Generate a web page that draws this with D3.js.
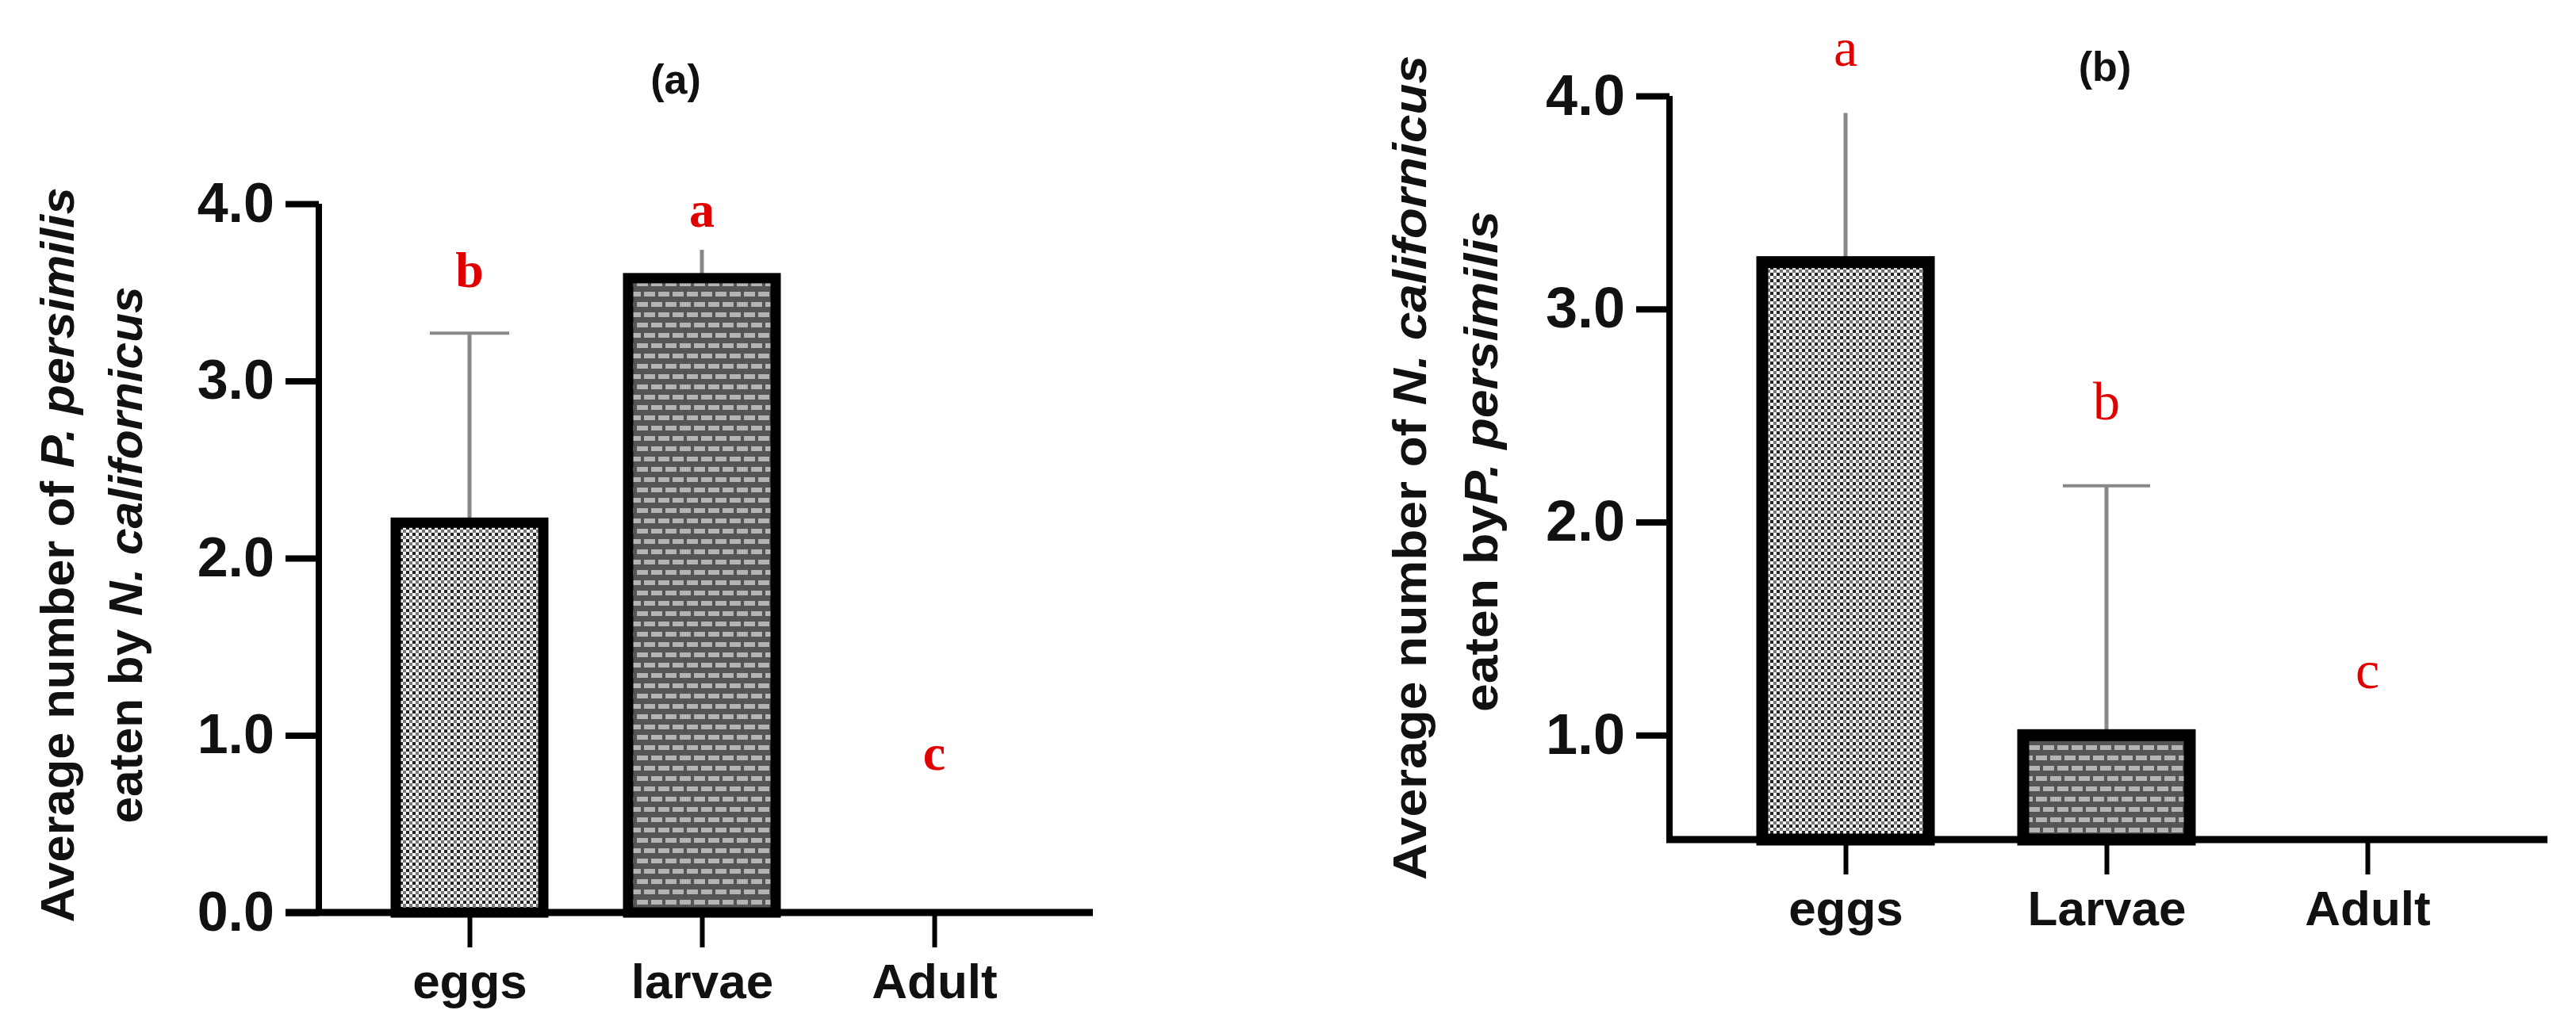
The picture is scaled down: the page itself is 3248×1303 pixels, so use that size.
<!DOCTYPE html>
<html><head><meta charset="utf-8">
<script src="https://cdn.jsdelivr.net/npm/d3@7"></script>
<style>body{margin:0;background:#fff}</style>
</head><body><div id="chart"></div>
<script>
const W = 3248, H = 1303;

const categoriesA = ['eggs', 'larvae', 'Adult'];
const meansA = [2.2, 3.58, 0];
const errA = [3.27, 3.74, null];
const lettersA = ['b', 'a', 'c'];

const categoriesB = ['eggs', 'Larvae', 'Adult'];
const meansB = [3.22, 1.0, 0];
const errB = [3.92, 2.17, null];
const lettersB = ['a', 'b', 'c'];

const ticksA = [0, 1, 2, 3, 4];
const ticksB = [1, 2, 3, 4];

const svg = d3.select('#chart').append('svg').attr('width', W).attr('height', H);
const defs = svg.append('defs');

// checker fill (eggs)
const pc = defs.append('pattern').attr('id', 'checker').attr('patternUnits', 'userSpaceOnUse')
  .attr('width', 8).attr('height', 8);
pc.append('rect').attr('width', 8).attr('height', 8).attr('fill', '#f2f2f2');
pc.append('rect').attr('width', 4).attr('height', 4).attr('fill', '#222');
pc.append('rect').attr('x', 4).attr('y', 4).attr('width', 4).attr('height', 4).attr('fill', '#777');

// brick fill (larvae)
const pb = defs.append('pattern').attr('id', 'brick').attr('patternUnits', 'userSpaceOnUse')
  .attr('width', 36).attr('height', 26);
pb.append('rect').attr('width', 36).attr('height', 26).attr('fill', '#555');
pb.append('rect').attr('x', 2).attr('y', 4).attr('width', 14).attr('height', 6).attr('fill', '#b4b4b4');
pb.append('rect').attr('x', 20).attr('y', 4).attr('width', 14).attr('height', 6).attr('fill', '#b4b4b4');
pb.append('rect').attr('x', 11).attr('y', 17).attr('width', 14).attr('height', 6).attr('fill', '#b4b4b4');
pb.append('rect').attr('x', 29).attr('y', 17).attr('width', 7).attr('height', 6).attr('fill', '#b4b4b4');
pb.append('rect').attr('x', 0).attr('y', 17).attr('width', 7).attr('height', 6).attr('fill', '#b4b4b4');

const fills = ['url(#checker)', 'url(#brick)', 'none'];

function panel(o) {
  const g = svg.append('g');
  const y = d3.scaleLinear().domain(o.domain).range([o.y0, o.y1]);
  const x = d3.scalePoint().domain(o.cats).range(o.xr);

  // y axis
  const ya = g.append('g').attr('transform', `translate(${o.ax},0)`)
    .call(d3.axisLeft(y).tickValues(o.ticks).tickSize(42).tickPadding(14).tickSizeOuter(0));
  ya.select('.domain').attr('stroke-width', 8).attr('d', `M0,${o.y0 + 4}V${o.y1}`);
  ya.selectAll('.tick line').attr('stroke-width', 8);
  ya.selectAll('.tick text').attr('font-family', 'Liberation Sans, Arial').attr('font-weight', 'bold')
    .attr('font-size', o.tickFont).attr('fill', '#111');

  // x axis
  const xa = g.append('g').attr('transform', `translate(0,${o.y0})`)
    .call(d3.axisBottom(x).tickSize(44).tickPadding(20).tickSizeOuter(0));
  xa.select('.domain').attr('stroke-width', 9).attr('d', `M${o.xs},0H${o.xe}`);
  xa.selectAll('.tick line').attr('stroke-width', 6);
  xa.selectAll('.tick text').attr('font-family', 'Liberation Sans, Arial').attr('font-weight', 'bold')
    .attr('font-size', 62).attr('fill', '#111');

  // error bars
  o.err.forEach((e, i) => {
    if (e == null) return;
    const cx = x(o.cats[i]);
    g.append('line').attr('x1', cx).attr('x2', cx).attr('y1', y(o.means[i])).attr('y2', y(e))
      .attr('stroke', '#888').attr('stroke-width', 5);
    if (o.caps[i]) g.append('line').attr('x1', cx - o.caps[i] / 2).attr('x2', cx + o.caps[i] / 2)
      .attr('y1', y(e)).attr('y2', y(e)).attr('stroke', '#888').attr('stroke-width', 4);
  });

  // bars
  g.selectAll('.bar').data(o.means).join('rect')
    .filter(d => d > o.domain[0])
    .attr('x', (d, i) => x(o.cats[i]) - o.bw / 2)
    .attr('width', o.bw)
    .attr('y', d => y(d))
    .attr('height', d => y(o.domain[0]) - y(d))
    .attr('fill', (d, i) => fills[i])
    .attr('stroke', '#000').attr('stroke-width', o.bs);

  // significance letters
  o.letters.forEach((l, i) => {
    g.append('text').attr('x', x(o.cats[i])).attr('y', o.letterY[i]).attr('text-anchor', 'middle')
      .attr('dominant-baseline', 'central').attr('font-family', 'Liberation Serif, Times New Roman')
      .attr('font-weight', o.letterW).attr('font-size', o.letterFont).attr('fill', '#e00000').text(l);
  });

  // title
  g.append('text').attr('x', o.title[1]).attr('y', o.title[2]).attr('text-anchor', 'middle')
    .attr('dominant-baseline', 'central').attr('font-family', 'Liberation Sans, Arial')
    .attr('font-weight', 'bold').attr('font-size', 52).attr('fill', '#111').text(o.title[0]);

  // y labels (two lines, rotated)
  o.ylab.forEach(L => {
    const t = g.append('text').attr('transform', `translate(${L.x},${L.cy}) rotate(-90)`)
      .attr('text-anchor', 'middle').attr('dominant-baseline', 'central')
      .attr('font-family', 'Liberation Sans, Arial').attr('font-weight', 'bold')
      .attr('font-size', 60).attr('fill', '#111')
      .attr('textLength', L.len).attr('lengthAdjust', 'spacingAndGlyphs');
    L.parts.forEach(p => t.append('tspan').attr('font-style', p[1] ? 'italic' : 'normal').text(p[0]));
  });
}

panel({
  cats: categoriesA, means: meansA, err: errA, letters: lettersA, ticks: ticksA,
  domain: [0, 4], y0: 1151, y1: 257, ax: 402, xr: [592, 1178], xs: 360, xe: 1378,
  bw: 186, bs: 13, caps: [100, 0, 0], tickFont: 70,
  letterY: [340, 264, 949], letterW: 'bold', letterFont: 64,
  title: ['(a)', 852, 100],
  ylab: [
    { x: 72, cy: 700, len: 927, parts: [['Average number of ', false], ['P. persimilis', true]] },
    { x: 158, cy: 700, len: 677, parts: [['eaten by ', false], ['N. californicus', true]] }
  ]
});

panel({
  cats: categoriesB, means: meansB, err: errB, letters: lettersB, ticks: ticksB,
  domain: [0.51, 4], y0: 1059, y1: 121, ax: 2105, xr: [2327, 2985], xs: 2101, xe: 3212,
  bw: 210, bs: 15, caps: [0, 110, 0], tickFont: 72,
  letterY: [60, 506, 845], letterW: 'normal', letterFont: 68,
  title: ['(b)', 2654, 84],
  ylab: [
    { x: 1777, cy: 590, len: 1040, parts: [['Average number of ', false], ['N. californicus', true]] },
    { x: 1867, cy: 582, len: 632, parts: [['eaten by', false], ['P. persimilis', true]] }
  ]
});
</script></body></html>
